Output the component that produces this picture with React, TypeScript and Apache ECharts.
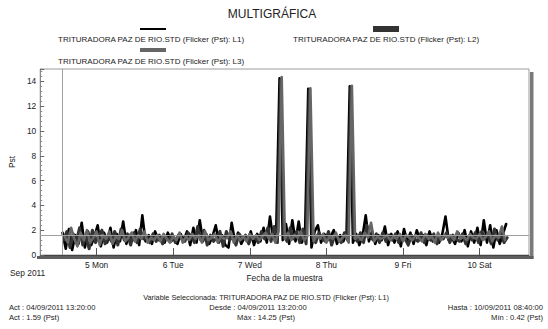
import React, { useEffect, useRef } from "react";
import * as echarts from "echarts";

// ---- data ----
const TITLE = "MULTIGRÁFICA";
const SERIES_NAMES = [
  "TRITURADORA PAZ DE RIO.STD (Flicker (Pst): L1)",
  "TRITURADORA PAZ DE RIO.STD (Flicker (Pst): L2)",
  "TRITURADORA PAZ DE RIO.STD (Flicker (Pst): L3)",
];
const SERIES_COLORS = ["#000000", "#333333", "#666666"];
const WEEKDAYS = ["Sun", "Mon", "Tue", "Wed", "Thu", "Fri", "Sat"];
const MONTH_LABEL = "Sep 2011";
const X_NAME = "Fecha de la muestra";
const Y_NAME = "Pst";

const HOUR = 3600000;
const T0_L1 = new Date(2011, 8, 4, 13, 20).getTime();
const T0_L2 = new Date(2011, 8, 4, 13, 40).getTime();
const T0_L3 = new Date(2011, 8, 4, 14, 0).getTime();
const X_MIN = new Date(2011, 8, 4, 6, 20).getTime();
const X_MAX = new Date(2011, 8, 10, 15, 30).getTime();
const ACT_VALUE = 1.59;

const L1 = [
  1.8, 0.5, 2.1, 0.4, 1.6, 0.9, 2.6, 0.6, 1.9, 0.8,
  1.5, 2.4, 0.7, 1.8, 1.0, 2.2, 0.6, 1.7, 1.1, 2.7,
  0.9, 1.6, 1.2, 2.0, 0.8, 3.2, 1.1, 1.6, 0.9, 1.9,
  1.2, 1.5, 1.0, 1.8, 1.1, 1.4, 0.9, 1.7, 1.2, 1.9,
  0.8, 2.2, 1.0, 2.8, 1.1, 1.7, 0.9, 1.5, 2.4, 1.0,
  1.6, 0.8, 0.6, 2.6, 1.1, 1.8, 0.9, 1.4, 1.2, 1.9,
  0.8, 1.7, 1.1, 2.2, 1.0, 3.1, 1.3, 2.4, 14.25, 1.2,
  2.5, 0.9, 2.8, 1.1, 2.7, 1.0, 1.8, 13.4, 0.6, 1.9,
  2.4, 1.0, 1.7, 1.2, 1.5, 2.0, 0.9, 1.6, 1.1, 1.8,
  13.6, 1.0, 1.7, 0.8, 1.5, 3.2, 1.1, 1.9, 0.9, 1.6,
  1.2, 2.3, 0.8, 1.7, 1.0, 1.9, 0.7, 2.1, 1.1, 1.8,
  0.9, 2.0, 1.2, 1.6, 0.8, 1.9, 1.1, 1.5, 1.0, 1.7,
  3.1, 1.2, 1.4, 0.9, 1.8, 1.1, 2.0, 0.7, 1.9, 1.0,
  2.2, 0.8, 2.8, 1.0, 2.4, 0.6, 2.0, 0.9, 1.7, 2.5,
];
const L2 = [
  1.2, 1.9, 0.6, 1.7, 1.1, 2.2, 0.8, 1.5, 0.5, 2.0,
  1.0, 1.6, 2.0, 0.9, 1.5, 1.1, 1.9, 0.8, 2.1, 1.2,
  1.7, 0.8, 1.8, 1.0, 2.1, 1.3, 1.5, 1.0, 1.7, 1.1,
  1.6, 0.9, 1.5, 1.2, 1.7, 1.0, 1.6, 1.3, 1.1, 1.8,
  1.5, 1.0, 2.3, 1.2, 2.0, 0.8, 1.6, 1.1, 1.4, 1.9,
  0.7, 1.9, 1.2, 1.5, 0.8, 1.7, 1.3, 1.6, 0.9, 1.5,
  1.4, 1.0, 1.9, 1.3, 2.2, 1.1, 2.3, 1.0, 14.1, 1.6,
  1.1, 2.2, 1.3, 1.9, 1.0, 2.1, 0.9, 13.3, 1.4, 1.0,
  1.8, 1.3, 1.1, 1.9, 0.8, 1.6, 1.4, 1.0, 1.8, 1.2,
  13.5, 1.4, 1.1, 1.8, 1.0, 2.4, 1.5, 1.2, 1.7, 1.0,
  1.8, 1.1, 1.6, 1.2, 1.7, 1.0, 1.5, 1.3, 0.8, 1.6,
  1.3, 1.1, 1.8, 1.0, 1.6, 1.2, 1.7, 0.9, 1.5, 1.3,
  1.8, 1.0, 1.6, 1.3, 1.1, 1.7, 0.9, 1.5, 1.2, 1.8,
  1.0, 1.9, 1.3, 1.6, 0.9, 2.1, 1.2, 1.8, 1.0, 1.4,
];
const L3 = [
  1.5, 1.0, 2.2, 1.3, 0.7, 1.8, 1.2, 2.0, 1.0, 1.4,
  1.9, 0.8, 1.6, 1.3, 1.9, 0.9, 1.5, 1.3, 2.0, 1.1,
  1.4, 1.8, 1.1, 1.6, 1.3, 1.9, 1.0, 1.4, 1.2, 1.6,
  1.1, 1.7, 1.3, 1.0, 1.5, 1.2, 1.8, 1.0, 1.5, 1.2,
  1.7, 1.3, 1.6, 1.0, 1.9, 1.2, 1.4, 1.7, 1.0, 1.5,
  1.3, 1.4, 1.9, 1.0, 1.6, 1.2, 1.5, 1.1, 1.7, 1.3,
  1.6, 1.2, 1.5, 1.8, 1.3, 1.7, 1.0, 1.9, 14.35, 1.3,
  1.8, 1.2, 1.6, 1.4, 1.9, 1.2, 1.5, 13.45, 1.1, 1.6,
  1.3, 1.7, 1.0, 1.5, 1.3, 1.8, 1.1, 1.4, 1.6, 1.0,
  13.65, 1.3, 1.5, 1.2, 1.8, 1.4, 2.6, 1.1, 1.5, 1.3,
  1.4, 1.6, 1.2, 1.5, 1.3, 1.7, 1.1, 1.6, 1.4, 1.2,
  1.6, 1.4, 1.1, 1.7, 1.3, 1.5, 1.0, 1.8, 1.2, 1.6,
  1.4, 1.6, 1.2, 1.9, 1.3, 1.5, 1.2, 1.7, 1.4, 1.3,
  1.7, 1.2, 1.5, 1.9, 1.1, 1.6, 1.4, 2.3, 1.2,
];

const INFO_CENTER_TOP = "Variable Seleccionada: TRITURADORA PAZ DE RIO.STD (Flicker (Pst): L1)";
const INFO_LEFT = ["Act : 04/09/2011 13:20:00", "Act : 1.59 (Pst)"];
const INFO_MIDDLE = ["Desde : 04/09/2011 13:20:00", "Máx : 14.25 (Pst)"];
const INFO_RIGHT = ["Hasta : 10/09/2011 08:40:00", "Mín : 0.42 (Pst)"];

const FONT = "'Liberation Sans', Arial, Helvetica, sans-serif";
const TXT = "#222";

export default function App() {
  const ref = useRef<HTMLDivElement>(null);

  useEffect(() => {
    if (!ref.current) return;
    const chart = echarts.init(ref.current, null, { renderer: "svg" });

    const build = (vals: number[], t0: number) => vals.map((v, i) => [t0 + i * HOUR, v]);
    const starts = [T0_L1, T0_L2, T0_L3];
    const values = [L1, L2, L3];
    const widths = [2.6, 3, 2.6];

    const series: any[] = values.map((vals, k) => ({
      type: "line",
      name: SERIES_NAMES[k],
      data: build(vals, starts[k]),
      symbol: "none",
      showSymbol: false,
      lineStyle: { color: SERIES_COLORS[k], width: widths[k], join: "round", cap: "round" },
      itemStyle: { color: SERIES_COLORS[k] },
      emphasis: { disabled: true },
      z: 2 + k,
    }));
    series[2].markLine = {
      silent: true,
      symbol: ["none", "none"],
      label: { show: false },
      lineStyle: { color: "#a0a0a0", width: 1, type: "solid" },
      data: [{ yAxis: ACT_VALUE }, { xAxis: T0_L1 }],
    };

    const txt = (text: string, x: number, y: number, size: number, align = "left") => ({
      type: "text",
      x,
      y,
      z: 100,
      style: {
        text,
        fontSize: size,
        fontFamily: FONT,
        fill: TXT,
        align,
        verticalAlign: "middle",
      },
    });
    const box = (x: number, y: number, w: number, h: number, fill: string) => ({
      type: "rect",
      x,
      y,
      z: 100,
      shape: { x: 0, y: 0, width: w, height: h },
      style: { fill },
    });

    const graphic: any[] = [
      txt(TITLE, 272, 14, 12, "center"),
      // legend samples
      box(140, 28, 26, 2, SERIES_COLORS[0]),
      txt(SERIES_NAMES[0], 58, 39, 8),
      box(373, 26, 26, 6, SERIES_COLORS[1]),
      txt(SERIES_NAMES[1], 293, 39, 8),
      box(140, 48, 26, 4, SERIES_COLORS[2]),
      txt(SERIES_NAMES[2], 58, 61.5, 8),
      // frame shadow (right and bottom)
      box(530, 72, 3.5, 187, "#7a7a7a"),
      box(37, 256, 496.5, 3, "#5e5e5e"),
      txt(MONTH_LABEL, 10, 272.5, 8.4),
      txt(INFO_CENTER_TOP, 266, 297.5, 7.3, "center"),
      txt(INFO_LEFT[0], 9, 307, 7.6),
      txt(INFO_LEFT[1], 9, 317, 7.6),
      txt(INFO_MIDDLE[0], 258, 307, 7.6, "center"),
      txt(INFO_MIDDLE[1], 266, 317, 7.6, "center"),
      txt(INFO_RIGHT[0], 543, 307, 7.6, "right"),
      txt(INFO_RIGHT[1], 543, 317, 7.6, "right"),
    ];

    chart.setOption({
      animation: false,
      backgroundColor: "#ffffff",
      textStyle: { fontFamily: FONT },
      grid: {
        left: 35,
        right: 19,
        top: 69,
        bottom: 74,
        show: true,
        borderColor: "#9a9a9a",
        borderWidth: 1,
        backgroundColor: "#ffffff",
      },
      xAxis: {
        type: "time",
        min: X_MIN,
        max: X_MAX,
        minInterval: 24 * HOUR,
        maxInterval: 24 * HOUR,
        name: X_NAME,
        nameLocation: "middle",
        nameGap: 19,
        nameTextStyle: { fontSize: 8.4, color: TXT, fontFamily: FONT },
        axisLine: { show: true, lineStyle: { color: "#444", width: 1 } },
        axisTick: { show: true, inside: true, length: 7, lineStyle: { color: "#555" } },
        axisLabel: {
          fontSize: 8.4,
          color: TXT,
          fontFamily: FONT,
          margin: 6,
          formatter: (v: number) => {
            const d = new Date(v);
            return d.getDate() + " " + WEEKDAYS[d.getDay()];
          },
        },
        splitLine: { show: false },
      },
      yAxis: {
        type: "value",
        min: 0,
        max: 15,
        interval: 2,
        name: Y_NAME,
        nameLocation: "middle",
        nameGap: 20,
        nameTextStyle: { fontSize: 8.4, color: TXT, fontFamily: FONT },
        axisLine: { show: true, lineStyle: { color: "#888" } },
        axisTick: { show: true, inside: true, length: 4, lineStyle: { color: "#666" } },
        minorTick: { show: true, splitNumber: 5, length: 2, lineStyle: { color: "#888" } },
        axisLabel: {
          fontSize: 8.4,
          color: TXT,
          fontFamily: FONT,
          margin: 4,
          formatter: (v: number) => (v % 2 === 0 ? String(v) : ""),
        },
        splitLine: { show: false },
      },
      series,
      graphic,
    });

    return () => chart.dispose();
  }, []);

  return (
    <div
      ref={ref}
      style={{ position: "fixed", left: 0, top: 0, width: 548, height: 329, background: "#fff" }}
    />
  );
}
